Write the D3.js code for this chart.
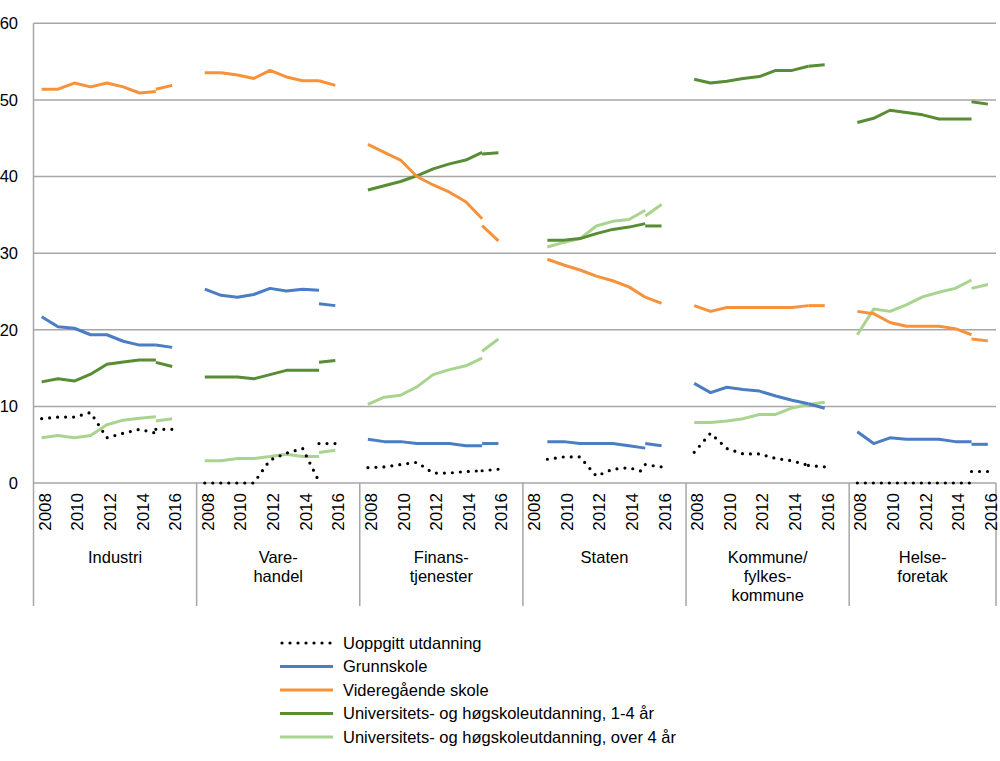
<!DOCTYPE html>
<html lang="no">
<head>
<meta charset="utf-8">
<script src="https://cdn.jsdelivr.net/npm/d3@7"></script>
<style>
  body { margin: 0; background: #fff; }
  svg text { font-family: "Liberation Sans", Arial, sans-serif; fill: #000; }
</style>
</head>
<body>
<div id="chart"></div>
<script>
// sectors (group labels, line by line) and years
var sectors = [["Industri"], ["Vare-", "handel"], ["Finans-", "tjenester"], ["Staten"],
               ["Kommune/", "fylkes-", "kommune"], ["Helse-", "foretak"]];
var years = [2008, 2009, 2010, 2011, 2012, 2013, 2014, 2015, 2016];
var yearLabels = [2008, 2010, 2012, 2014, 2016];
var yTicks = [0, 10, 20, 30, 40, 50, 60];

// old series 2008-2015, one row per sector
var uoppgitt = [
  [8.4, 8.6, 8.6, 9.2, 5.9, 6.5, 7.0, 6.5],
  [0, 0, 0, 0, 3.0, 3.9, 4.5, 0.2],
  [2.0, 2.1, 2.4, 2.7, 1.3, 1.3, 1.5, 1.6],
  [null, 3.1, 3.4, 3.4, 0.9, 1.8, 2.0, 1.4],
  [4.0, 6.5, 4.5, 3.8, 3.8, 3.2, 2.9, 2.3],
  [0, 0, 0, 0, 0, 0, 0, 0]
];
var grunnskole = [
  [21.7, 20.4, 20.2, 19.35, 19.35, 18.5, 18.0, 18.0],
  [25.3, 24.5, 24.25, 24.6, 25.4, 25.05, 25.3, 25.15],
  [5.7, 5.4, 5.4, 5.15, 5.15, 5.15, 4.85, 4.85],
  [null, 5.4, 5.4, 5.15, 5.15, 5.15, 4.85, 4.55],
  [13.0, 11.8, 12.5, 12.2, 12.0, 11.35, 10.8, 10.35],
  [6.7, 5.15, 5.9, 5.7, 5.7, 5.7, 5.4, 5.4]
];
var videregaende = [
  [51.4, 51.4, 52.2, 51.7, 52.2, 51.7, 50.9, 51.1],
  [53.55, 53.55, 53.25, 52.8, 53.85, 53.0, 52.5, 52.5],
  [44.2, 43.15, 42.15, 40.0, 38.9, 37.95, 36.7, 34.5],
  [null, 29.2, 28.45, 27.8, 27.0, 26.4, 25.6, 24.25],
  [23.15, 22.4, 22.9, 22.9, 22.9, 22.9, 22.9, 23.15],
  [22.4, 22.1, 20.95, 20.45, 20.45, 20.45, 20.15, 19.35]
];
var uniKort = [
  [13.2, 13.6, 13.3, 14.2, 15.5, 15.8, 16.05, 16.05],
  [13.85, 13.85, 13.85, 13.6, 14.15, 14.7, 14.7, 14.7],
  [38.25, 38.8, 39.35, 40.1, 41.0, 41.65, 42.15, 43.15],
  [null, 31.7, 31.7, 31.9, 32.55, 33.1, 33.4, 33.85],
  [52.7, 52.2, 52.45, 52.8, 53.05, 53.85, 53.85, 54.4],
  [47.05, 47.6, 48.65, 48.35, 48.05, 47.5, 47.5, 47.5]
];
var uniLang = [
  [5.9, 6.2, 5.9, 6.2, 7.6, 8.2, 8.45, 8.65],
  [2.9, 2.9, 3.2, 3.2, 3.45, 3.75, 3.45, 3.45],
  [10.25, 11.2, 11.45, 12.55, 14.15, 14.8, 15.3, 16.3],
  [null, 30.8, 31.4, 31.9, 33.55, 34.15, 34.4, 35.6],
  [7.9, 7.9, 8.1, 8.4, 8.95, 8.95, 9.8, 10.25],
  [19.35, 22.7, 22.4, 23.25, 24.3, 24.9, 25.4, 26.5]
];

// new series 2015-2016 (break in series), one row per sector
var uoppgittNy = [[7.0, 7.0], [5.15, 5.15], [1.6, 1.8], [2.4, 2.1], [2.3, 2.1], [1.5, 1.5]];
var grunnskoleNy = [[18.0, 17.7], [23.4, 23.15], [5.15, 5.15], [5.15, 4.85], [10.35, 9.75], [5.05, 5.05]];
var videregaendeNy = [[51.4, 51.9], [52.5, 51.9], [33.6, 31.6], [24.25, 23.45], [23.15, 23.15], [18.8, 18.55]];
var uniKortNy = [[15.75, 15.2], [15.75, 16.0], [42.95, 43.1], [33.55, 33.55], [54.4, 54.6], [49.75, 49.45]];
var uniLangNy = [[8.1, 8.4], [3.98, 4.28], [17.2, 18.8], [34.85, 36.35], [10.25, 10.55], [25.4, 25.9]];

var seriesNames = ["Uoppgitt utdanning", "Grunnskole", "Videregående skole",
  "Universitets- og høgskoleutdanning, 1-4 år", "Universitets- og høgskoleutdanning, over 4 år"];
var colors = ["#000000", "#4a7dc4", "#f7923a", "#588c35", "#a9d48f"];

var seriesOld = [uoppgitt, grunnskole, videregaende, uniKort, uniLang];
var seriesNew = [uoppgittNy, grunnskoleNy, videregaendeNy, uniKortNy, uniLangNy];

// size
var w = 1000, h = 761;
var plotL = 33.5, plotR = 996, plotT = 23.3, plotB = 483, axisEnd = 606;

var svg = d3.select("#chart").append("svg")
  .attr("width", w).attr("height", h);

// each sector takes 10 slots (9 years + a blank), the last one only 9
var slotsPer = 10;
var nSlots = slotsPer * (sectors.length - 1) + years.length;
var x = d3.scaleBand().domain(d3.range(nSlots)).range([plotL, plotR]);
var slotX = (p, i) => x(p * slotsPer + i) + x.bandwidth() / 2;
var panelLeft = p => x(p * slotsPer);
var panelRight = p => p == sectors.length - 1 ? plotR : x((p + 1) * slotsPer);

var y = d3.scaleLinear().domain([0, 60]).range([plotB, plotT]);

// gridlines
svg.append("g").selectAll("line")
  .data(yTicks)
  .enter().append("line")
  .attr("x1", plotL).attr("x2", plotR)
  .attr("y1", d => y(d)).attr("y2", d => y(d))
  .attr("stroke", "#a6a6a6").attr("stroke-width", 1.5);

// y axis
svg.append("line")
  .attr("x1", plotL).attr("x2", plotL).attr("y1", plotT).attr("y2", axisEnd)
  .attr("stroke", "#a6a6a6").attr("stroke-width", 1.5);
svg.append("g").selectAll("text")
  .data(yTicks)
  .enter().append("text")
  .attr("x", 18).attr("y", d => y(d)).attr("dy", "0.35em")
  .attr("text-anchor", "end").style("font-size", "16.5px")
  .text(d => d);

// sector dividers under the axis
var dividers = d3.range(1, sectors.length).map(panelLeft).concat([plotR]);
svg.append("g").selectAll("line")
  .data(dividers)
  .enter().append("line")
  .attr("x1", d => d).attr("x2", d => d).attr("y1", plotB).attr("y2", axisEnd)
  .attr("stroke", "#a6a6a6").attr("stroke-width", 1.5);

// year labels (rotated) and sector labels
sectors.forEach(function(s, p) {
  svg.append("g").selectAll("text")
    .data(yearLabels)
    .enter().append("text")
    .attr("transform", d => "translate(" + (slotX(p, years.indexOf(d)) + 9) + "," + (plotB + 10) + ") rotate(-90)")
    .attr("text-anchor", "end").style("font-size", "17px")
    .text(d => d);
  var cx = (panelLeft(p) + panelRight(p)) / 2;
  svg.append("text")
    .attr("x", cx).attr("y", 563)
    .attr("text-anchor", "middle").style("font-size", "16.5px")
    .selectAll("tspan")
    .data(s)
    .enter().append("tspan")
    .attr("x", cx).attr("dy", (d, i) => i == 0 ? 0 : 19)
    .text(d => d);
});

// lines
var line = d3.line()
  .defined(d => d.v != null)
  .x(d => d.x).y(d => y(d.v));

function styleLine(sel, k) {
  sel.attr("fill", "none").attr("stroke", colors[k]);
  if (k == 0) {
    sel.attr("stroke-width", 3.2).attr("stroke-dasharray", "0 8").attr("stroke-linecap", "round");
  } else {
    sel.attr("stroke-width", 3).attr("stroke-linejoin", "round");
  }
}

var plot = svg.append("g");
[4, 3, 2, 1, 0].forEach(function(k) {
  sectors.forEach(function(s, p) {
    var oldPts = seriesOld[k][p].map((v, i) => ({ x: slotX(p, i), v: v }));
    var newPts = seriesNew[k][p].map((v, i) => ({ x: slotX(p, i + 7), v: v }));
    plot.append("path").datum(oldPts).attr("d", line).call(styleLine, k);
    plot.append("path").datum(newPts).attr("d", line).call(styleLine, k);
  });
});

// legend
var legend = svg.append("g").selectAll("g")
  .data(seriesNames)
  .enter().append("g")
  .attr("transform", (d, i) => "translate(0," + (643 + i * 23.5) + ")");
legend.append("line")
  .attr("x1", (d, i) => i == 0 ? 282 : 280).attr("x2", 333)
  .attr("y1", 0).attr("y2", 0)
  .each(function(d, i) { d3.select(this).call(styleLine, i); });
legend.append("text")
  .attr("x", 343).attr("dy", "0.35em").style("font-size", "16.5px")
  .text(d => d);
</script>
</body>
</html>
